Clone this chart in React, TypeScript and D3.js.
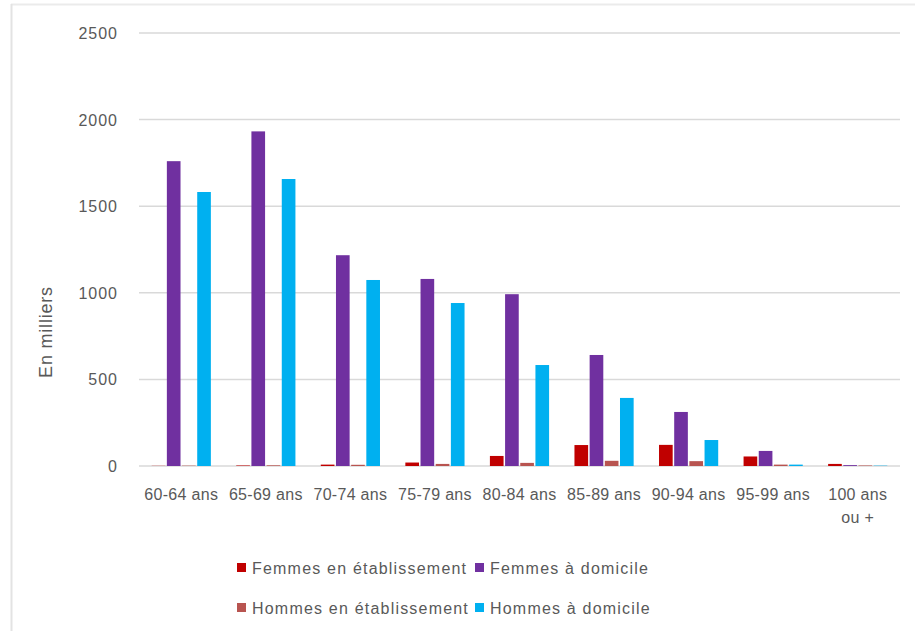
import React from "react";
import * as d3 from "d3";

const categories = ["60-64 ans", "65-69 ans", "70-74 ans", "75-79 ans", "80-84 ans", "85-89 ans", "90-94 ans", "95-99 ans", "100 ans\nou +"];
const seriesNames = ["Femmes en établissement", "Femmes à domicile", "Hommes en établissement", "Hommes à domicile"];
const femmesEtab = [1, 3, 8, 20, 58, 121, 122, 55, 12];
const femmesDom = [1760, 1932, 1217, 1080, 992, 641, 312, 87, 5];
const hommesEtab = [2, 4, 7, 12, 18, 30, 28, 8, 3];
const hommesDom = [1582, 1657, 1074, 941, 583, 393, 150, 8, 2];
const yTicks = [0, 500, 1000, 1500, 2000, 2500];
const colors = ["#C00000", "#7030A0", "#B85450", "#00B0F0"];

const W = 915;
const H = 634;

export default function App() {
  const series = [femmesEtab, femmesDom, hommesEtab, hommesDom];
  const x0 = d3.scaleBand<string>().domain(categories).range([139, 900]).paddingInner(0.3).paddingOuter(0.15);
  const x1 = d3.scaleBand<string>().domain(seriesNames).range([0, x0.bandwidth()]).paddingInner(0.1);
  const y = d3.scaleLinear().domain([0, 2500]).range([466, 33]);
  const font = "'Liberation Sans', Arial, sans-serif";
  const textColor = "#595959";

  const legendRows = [
    [0, 1],
    [2, 3],
  ];
  const legendX = [237, 475];
  const legendY = [563, 603];

  return (
    <svg width={W} height={H} style={{ position: "absolute", left: 0, top: 0, background: "#fff" }} fontFamily={font}>
      <rect x={0} y={0} width={W} height={H} fill="#fff" />
      <line x1={11} x2={W} y1={4.5} y2={4.5} stroke="#ebebeb" strokeWidth={2} />
      <line x1={11.5} x2={11.5} y1={4} y2={631} stroke="#e3e3e3" strokeWidth={2} />
      {yTicks.map((t) => (
        <g key={t}>
          <line x1={139} x2={900} y1={y(t)} y2={y(t)} stroke="#d9d9d9" strokeWidth={1.5} />
          <text x={118} y={y(t) + 6} textAnchor="end" fontSize={16} letterSpacing={1} fill={textColor}>
            {t}
          </text>
        </g>
      ))}
      {categories.map((c, i) => (
        <g key={c} transform={`translate(${x0(c)},0)`}>
          {series.map((s, j) => (
            <rect
              key={j}
              x={x1(seriesNames[j])}
              y={y(s[i])}
              width={x1.bandwidth()}
              height={y(0) - y(s[i])}
              fill={colors[j]}
            />
          ))}
        </g>
      ))}
      {categories.map((c) => {
        const lines = c.split("\n");
        const cx = (x0(c) as number) + x0.bandwidth() / 2;
        return (
          <text key={c} x={cx} y={500} textAnchor="middle" fontSize={16} letterSpacing={0.3} fill={textColor}>
            {lines.map((l, k) => (
              <tspan key={k} x={cx} dy={k === 0 ? 0 : 23}>
                {l}
              </tspan>
            ))}
          </text>
        );
      })}
      <text transform="translate(52,332) rotate(-90)" textAnchor="middle" fontSize={18} letterSpacing={0.8} fill={textColor}>
        En milliers
      </text>
      {legendRows.map((row, r) =>
        row.map((si, k) => (
          <g key={si} transform={`translate(${legendX[k]},${legendY[r]})`}>
            <rect x={0} y={0} width={9} height={9} fill={colors[si]} />
            <text x={15} y={11} fontSize={16} letterSpacing={1.2} fill={textColor}>
              {seriesNames[si]}
            </text>
          </g>
        ))
      )}
    </svg>
  );
}
